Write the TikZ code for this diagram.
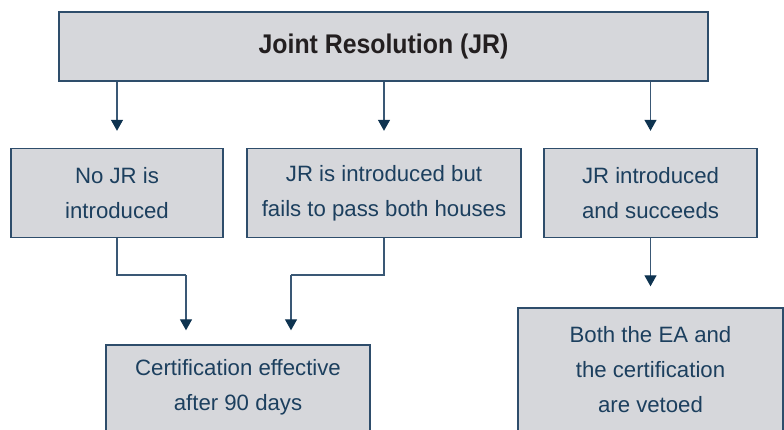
\documentclass[tikz,border=0pt]{standalone}
\usepackage{fontspec}
\setmainfont{Liberation Sans}
\newfontfamily\titlefont[FakeStretch=0.92]{Liberation Sans}
\usetikzlibrary{arrows.meta}
\definecolor{boxfill}{HTML}{D6D7DB}
\definecolor{boxline}{HTML}{2E4D6B}
\definecolor{boxtext}{HTML}{1C3F5E}
\definecolor{titletext}{HTML}{231F20}
\definecolor{arrline}{HTML}{3A5875}
\definecolor{arrtip}{HTML}{0E3350}
\newcommand{\deepstrut}{\rule[-20pt]{0pt}{20pt}}
\tikzset{
  box/.style={draw=boxline, line width=1.4pt, fill=boxfill, inner sep=0pt,
    align=center, text=boxtext, font=\fontsize{22.2}{35}\selectfont},
  arr/.style={draw=arrline, line width=1.3pt,
    -{Triangle[width=12pt,length=11pt,fill=arrtip,color=arrtip]}},
  link/.style={draw=arrline, line width=1.3pt}
}
\begin{document}
\begin{tikzpicture}[x=1pt,y=1pt]
\useasboundingbox (0,0) rectangle (784,-429);
\clip (0,0) rectangle (784,-429);
\node[box, minimum width=649pt, minimum height=69pt, text=titletext,
  font=\titlefont\bfseries\fontsize{27}{32}\selectfont] (top) at (383.5,-46.5) {Joint Resolution (JR)};
\node[box, minimum width=212pt, minimum height=89pt] (m1) at (117,-193) {No JR is\\introduced};
\node[box, minimum width=274pt, minimum height=89pt] (m2) at (384,-193) {JR is introduced but\\fails to pass both houses};
\node[box, minimum width=213pt, minimum height=89pt] (m3) at (650.5,-193) {JR introduced\\and succeeds};
\node[box, minimum width=264pt, minimum height=100.4pt] (b1) at (238,-395.2) {Certification effective\\after 90 days\deepstrut};
\node[box, minimum width=265pt, minimum height=142pt] (b2) at (650.5,-379) {Both the EA and\\the certification\\are vetoed\deepstrut};
\coordinate (j1) at (186,-275);
\coordinate (j2) at (291,-275);
\draw[arr, shorten >=17pt] (top.south -| m1.north) -- (m1.north);
\draw[arr, shorten >=17pt] (top.south -| m2.north) -- (m2.north);
\draw[arr, shorten >=17pt] (top.south -| m3.north) -- (m3.north);
\draw[arr, shorten >=21pt] (m3.south) -- (b2.north);
\draw[link] (m1.south) |- (j1);
\draw[arr, shorten >=14pt] (j1) -- (j1 |- b1.north);
\draw[link] (m2.south) |- (j2);
\draw[arr, shorten >=14pt] (j2) -- (j2 |- b1.north);
\end{tikzpicture}
\end{document}
